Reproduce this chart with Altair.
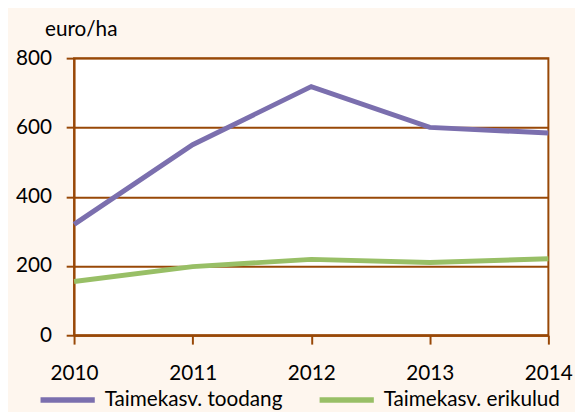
import altair as alt
import pandas as pd

years = ["2010", "2011", "2012", "2013", "2014"]
toodang = [320, 550, 718, 600, 584]
erikulud = [155, 198, 219, 210, 221]
series_names = ["Taimekasv. toodang", "Taimekasv. erikulud"]
series_colors = ["#7B6FAE", "#98BF66"]

rows = []
for y, v in zip(years, toodang):
    rows.append({"year": y, "value": v, "series": series_names[0]})
for y, v in zip(years, erikulud):
    rows.append({"year": y, "value": v, "series": series_names[1]})
df = pd.DataFrame(rows)

BROWN = "#984807"
FONT = "Lato"
FS = 21

chart = (
    alt.Chart(df)
    .mark_line(strokeWidth=5, strokeCap="butt")
    .encode(
        x=alt.X(
            "year:O",
            scale=alt.Scale(padding=0),
            axis=alt.Axis(
                title=None,
                labelAngle=0,
                domainColor=BROWN,
                domainWidth=2,
                tickColor=BROWN,
                tickWidth=2,
                tickSize=9,
                labelPadding=19,
                grid=False,
            ),
        ),
        y=alt.Y(
            "value:Q",
            scale=alt.Scale(domain=[0, 800], nice=False),
            axis=alt.Axis(
                values=[0, 200, 400, 600, 800],
                title="euro/ha",
                titleAngle=0,
                titleAlign="left",
                titleBaseline="middle",
                titleX=-30,
                titleY=-29,
                titleFontWeight="normal",
                titleFontSize=FS,
                domainColor=BROWN,
                domainWidth=2,
                tickColor=BROWN,
                tickWidth=2,
                tickSize=8,
                labelPadding=15,
                gridColor=BROWN,
                gridWidth=2,
                gridOpacity=1,
            ),
        ),
        color=alt.Color(
            "series:N",
            scale=alt.Scale(domain=series_names, range=series_colors),
            sort=series_names,
            legend=alt.Legend(
                title=None,
                orient="none",
                legendX=-37,
                legendY=316,
                direction="horizontal",
                symbolType="stroke",
                symbolSize=3025,
                symbolStrokeWidth=5.5,
                labelFontSize=FS,
                labelOffset=7,
                labelLimit=400,
                labelBaseline="middle",
                columnPadding=26,
                padding=0,
            ),
        ),
    )
    .properties(
        width=481,
        height=281,
        autosize=alt.AutoSizeParams(type="none"),
        padding={"left": 67, "top": 48, "right": 27, "bottom": 75},
        background="#FEF6EE",
    )
    .configure_view(fill="white", stroke=BROWN, strokeWidth=2)
    .configure_axis(labelFont=FONT, titleFont=FONT, labelFontSize=FS, labelColor="#000000", titleColor="#000000")
    .configure_legend(labelFont=FONT, labelColor="#000000")
)

chart.save("out.html", embed_options={"renderer": "svg", "actions": False})
